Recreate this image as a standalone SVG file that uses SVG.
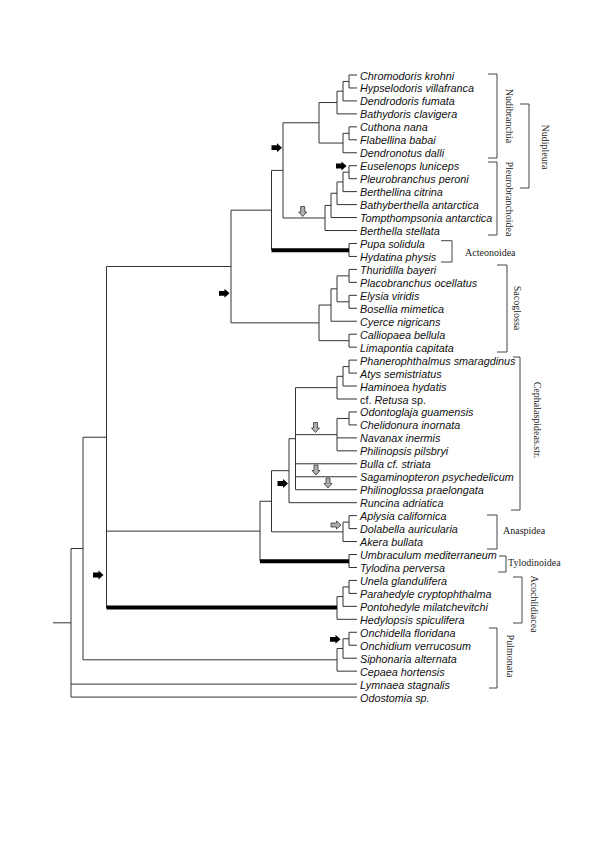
<svg xmlns="http://www.w3.org/2000/svg" xmlns:xlink="http://www.w3.org/1999/xlink" width="600" height="849" viewBox="0 0 600 849">
<style>
.t{font-family:"Liberation Sans",Arial,sans-serif;font-style:italic;font-size:10.8px;fill:#111}
.n{font-style:normal}
.g{font-family:"Liberation Serif","Times New Roman",serif;font-size:10px;fill:#222}
.v{text-anchor:middle;dominant-baseline:central}
.e{fill:none;stroke:#333;stroke-width:1}
.k{fill:none;stroke:#000;stroke-width:4}
.b{fill:none;stroke:#444;stroke-width:1}
.ab{fill:#000}
.ag{fill:#b0b0b0;stroke:#333;stroke-width:0.8}
</style>
<defs>
<path id="arR" d="M-10.5,-2.4 H-5 V-4.5 L0,0 L-5,4.5 V2.4 H-10.5 Z"/>
<path id="arD" d="M-2,-10 H2 V-4.5 H4 L0,0 L-4,-4.5 H-2 Z"/>
<path id="arRg" d="M-10,-2 H-4.5 V-4 L0,0 L-4.5,4 V2 H-10 Z"/>
</defs>
<rect width="600" height="849" fill="#fff"/>

<g id="connectors">
<path class="e" d="
M349,75V87.96 M349,75H357 M349,87.96H357
M343,81.48V100.92 M343,81.48H349 M343,100.92H357
M337,91.2V113.88 M337,91.2H343 M337,113.88H357
M349,126.84V139.8 M349,126.84H357 M349,139.8H357
M343,133.32V152.76 M343,133.32H349 M343,152.76H357
M319,102.54V143.04 M319,102.54H337 M319,143.04H343
M349,165.72V178.68 M349,165.72H357 M349,178.68H357
M343,172.2V191.64 M343,172.2H349 M343,191.64H357
M337,181.92V204.6 M337,181.92H343 M337,204.6H357
M331,193.26V217.56 M331,193.26H337 M331,217.56H357
M325,205.41V230.52 M325,205.41H331 M325,230.52H357
M283,122.79V217.97 M283,122.79H319 M283,217.97H325
M349,243.48V256.44 M349,243.48H357 M349,256.44H357
M271.5,170.38V249.96 M271.5,170.38H283
M349,269.4V282.36 M349,269.4H357 M349,282.36H357
M349,295.32V308.28 M349,295.32H357 M349,308.28H357
M337,275.88V301.8 M337,275.88H349 M337,301.8H349
M331,288.84V321.24 M331,288.84H337 M331,321.24H357
M349,334.2V347.16 M349,334.2H357 M349,347.16H357
M319,305.04V340.68 M319,305.04H331 M319,340.68H349
M231,210.17V322.86 M231,210.17H271.5 M231,322.86H319
M349,360.12V373.08 M349,360.12H357 M349,373.08H357
M343,366.6V386.04 M343,366.6H349 M343,386.04H357
M337,376.32V399 M337,376.32H343 M337,399H357
M349,411.96V424.92 M349,411.96H357 M349,424.92H357
M337,418.44V450.84 M337,418.44H349 M337,437.88H357 M337,450.84H357
M295.5,387.66V489.72 M295.5,387.66H337 M295.5,434.64H337 M295.5,463.8H357 M295.5,476.76H357 M295.5,489.72H357
M289,438.69V502.68 M289,438.69H295.5 M289,502.68H357
M349,515.64V528.6 M349,515.64H357 M349,528.6H357
M343,522.12V541.56 M343,522.12H349 M343,541.56H357
M271.5,470.69V531.84 M271.5,470.69H289 M271.5,531.84H343
M349,554.52V567.48 M349,554.52H357 M349,567.48H357
M260,501.27V561 M260,501.27H271.5
M349,580.44V593.4 M349,580.44H357 M349,593.4H357
M343,586.92V606.36 M343,586.92H349 M343,606.36H357
M337,596.64V619.32 M337,596.64H343 M337,619.32H357
M106.5,266.5V607.98 M106.5,266.5H231 M106.5,531.13H260
M349,632.28V645.24 M349,632.28H357 M349,645.24H357
M343,638.76V658.2 M343,638.76H349 M343,658.2H357
M337,648.48V671.16 M337,648.48H343 M337,671.16H357
M83,437.24V659.82 M83,437.24H106.5 M83,659.82H337
M71,548.53V697.08 M71,548.53H83 M71,684.12H357 M71,697.08H357
M53,622.8H71"/>
<path class="k" d="M271.5,250.2H349 M260,561.2H349 M106.5,607.5H337"/>
</g>

<g id="arrows">
<use href="#arR" class="ab" x="282" y="147.7"/>
<use href="#arR" class="ab" x="346.5" y="166"/>
<use href="#arR" class="ab" x="229.5" y="293.3"/>
<use href="#arR" class="ab" x="288" y="483.5"/>
<use href="#arR" class="ab" x="103.5" y="575"/>
<use href="#arR" class="ab" x="340.5" y="639.3"/>
<use href="#arD" class="ag" x="302.7" y="216.5"/>
<use href="#arD" class="ag" x="315.5" y="432.5"/>
<use href="#arD" class="ag" x="316" y="475"/>
<use href="#arD" class="ag" x="328" y="488"/>
<use href="#arRg" class="ag" x="341" y="525"/>
</g>

<g id="taxa">
<g id="taxon-chromodoris"><text class="t" x="360" y="79.5">Chromodoris krohni</text></g>
<g id="taxon-hypselodoris"><text class="t" x="360" y="92.46">Hypselodoris villafranca</text></g>
<g id="taxon-dendrodoris"><text class="t" x="360" y="105.42">Dendrodoris fumata</text></g>
<g id="taxon-bathydoris"><text class="t" x="360" y="118.38">Bathydoris clavigera</text></g>
<g id="taxon-cuthona"><text class="t" x="360" y="131.34">Cuthona nana</text></g>
<g id="taxon-flabellina"><text class="t" x="360" y="144.3">Flabellina babai</text></g>
<g id="taxon-dendronotus"><text class="t" x="360" y="157.26">Dendronotus dalli</text></g>
<g id="taxon-euselenops"><text class="t" x="360" y="170.22">Euselenops luniceps</text></g>
<g id="taxon-pleurobranchus"><text class="t" x="360" y="183.18">Pleurobranchus peroni</text></g>
<g id="taxon-berthellina"><text class="t" x="360" y="196.14">Berthellina citrina</text></g>
<g id="taxon-bathyberthella"><text class="t" x="360" y="209.1">Bathyberthella antarctica</text></g>
<g id="taxon-tompthompsonia"><text class="t" x="360" y="222.06">Tompthompsonia antarctica</text></g>
<g id="taxon-berthella"><text class="t" x="360" y="235.02">Berthella stellata</text></g>
<g id="taxon-pupa"><text class="t" x="360" y="247.98">Pupa solidula</text></g>
<g id="taxon-hydatina"><text class="t" x="360" y="260.94">Hydatina physis</text></g>
<g id="taxon-thuridilla"><text class="t" x="360" y="273.9">Thuridilla bayeri</text></g>
<g id="taxon-placobranchus"><text class="t" x="360" y="286.86">Placobranchus ocellatus</text></g>
<g id="taxon-elysia"><text class="t" x="360" y="299.82">Elysia viridis</text></g>
<g id="taxon-bosellia"><text class="t" x="360" y="312.78">Bosellia mimetica</text></g>
<g id="taxon-cyerce"><text class="t" x="360" y="325.74">Cyerce nigricans</text></g>
<g id="taxon-calliopaea"><text class="t" x="360" y="338.7">Calliopaea bellula</text></g>
<g id="taxon-limapontia"><text class="t" x="360" y="351.66">Limapontia capitata</text></g>
<g id="taxon-phanerophthalmus"><text class="t" x="360" y="364.62">Phanerophthalmus smaragdinus</text></g>
<g id="taxon-atys"><text class="t" x="360" y="377.58">Atys semistriatus</text></g>
<g id="taxon-haminoea"><text class="t" x="360" y="390.54">Haminoea hydatis</text></g>
<g id="taxon-retusa"><text class="t" x="360" y="403.5"><tspan class="n">cf. </tspan>Retusa<tspan class="n"> sp.</tspan></text></g>
<g id="taxon-odontoglaja"><text class="t" x="360" y="416.46">Odontoglaja guamensis</text></g>
<g id="taxon-chelidonura"><text class="t" x="360" y="429.42">Chelidonura inornata</text></g>
<g id="taxon-navanax"><text class="t" x="360" y="442.38">Navanax inermis</text></g>
<g id="taxon-philinopsis"><text class="t" x="360" y="455.34">Philinopsis pilsbryi</text></g>
<g id="taxon-bulla"><text class="t" x="360" y="468.3">Bulla cf. striata</text></g>
<g id="taxon-sagaminopteron"><text class="t" x="360" y="481.26">Sagaminopteron psychedelicum</text></g>
<g id="taxon-philinoglossa"><text class="t" x="360" y="494.22">Philinoglossa praelongata</text></g>
<g id="taxon-runcina"><text class="t" x="360" y="507.18">Runcina adriatica</text></g>
<g id="taxon-aplysia"><text class="t" x="360" y="520.14">Aplysia californica</text></g>
<g id="taxon-dolabella"><text class="t" x="360" y="533.1">Dolabella auricularia</text></g>
<g id="taxon-akera"><text class="t" x="360" y="546.06">Akera bullata</text></g>
<g id="taxon-umbraculum"><text class="t" x="360" y="559.02">Umbraculum mediterraneum</text></g>
<g id="taxon-tylodina"><text class="t" x="360" y="571.98">Tylodina perversa</text></g>
<g id="taxon-unela"><text class="t" x="360" y="584.94">Unela glandulifera</text></g>
<g id="taxon-parahedyle"><text class="t" x="360" y="597.9">Parahedyle cryptophthalma</text></g>
<g id="taxon-pontohedyle"><text class="t" x="360" y="610.86">Pontohedyle milatchevitchi</text></g>
<g id="taxon-hedylopsis"><text class="t" x="360" y="623.82">Hedylopsis spiculifera</text></g>
<g id="taxon-onchidella"><text class="t" x="360" y="636.78">Onchidella floridana</text></g>
<g id="taxon-onchidium"><text class="t" x="360" y="649.74">Onchidium verrucosum</text></g>
<g id="taxon-siphonaria"><text class="t" x="360" y="662.7">Siphonaria alternata</text></g>
<g id="taxon-cepaea"><text class="t" x="360" y="675.66">Cepaea hortensis</text></g>
<g id="taxon-lymnaea"><text class="t" x="360" y="688.62">Lymnaea stagnalis</text></g>
<g id="taxon-odostomia"><text class="t" x="360" y="701.58">Odostomia sp.</text></g>
</g>

<g id="groups">
<g id="grp-nudibranchia"><path class="b" d="M488,74H497V158H488"/><text class="g v" transform="translate(509.5,116) rotate(90)">Nudibranchia</text></g>
<g id="grp-pleurobranchoidea"><path class="b" d="M488,162H497V235H488"/><text class="g v" transform="translate(509.5,199) rotate(90)">Pleurobranchoidea</text></g>
<g id="grp-nudipleura"><path class="b" d="M520,104H529V188H520"/><text class="g v" transform="translate(545.5,147) rotate(90)">Nudipleura</text></g>
<g id="grp-acteonoidea"><path class="b" d="M441,240.7H452V262H441"/><text class="g" x="465" y="255.5">Acteonoidea</text></g>
<g id="grp-sacoglossa"><path class="b" d="M497,265H507V352H497"/><text class="g v" transform="translate(517,308) rotate(90)">Sacoglossa</text></g>
<g id="grp-cephalaspidea"><path class="b" d="M513,357H520V510H511"/><text class="g v" transform="translate(537.5,420) rotate(90)">Cephalaspideas.str.</text></g>
<g id="grp-anaspidea"><path class="b" d="M487,515H497V549H487"/><text class="g" x="503" y="534">Anaspidea</text></g>
<g id="grp-tylodinoidea"><path class="b" d="M499,556H506V572H498"/><text class="g" x="508" y="565.5">Tylodinoidea</text></g>
<g id="grp-acochlidiacea"><path class="b" d="M513,577H522V623H513"/><text class="g v" transform="translate(534.5,604) rotate(90)">Acochlidiacea</text></g>
<g id="grp-pulmonata"><path class="b" d="M489,628H497V688H489"/><text class="g v" transform="translate(510,656) rotate(90)">Pulmonata</text></g>
</g>
</svg>
